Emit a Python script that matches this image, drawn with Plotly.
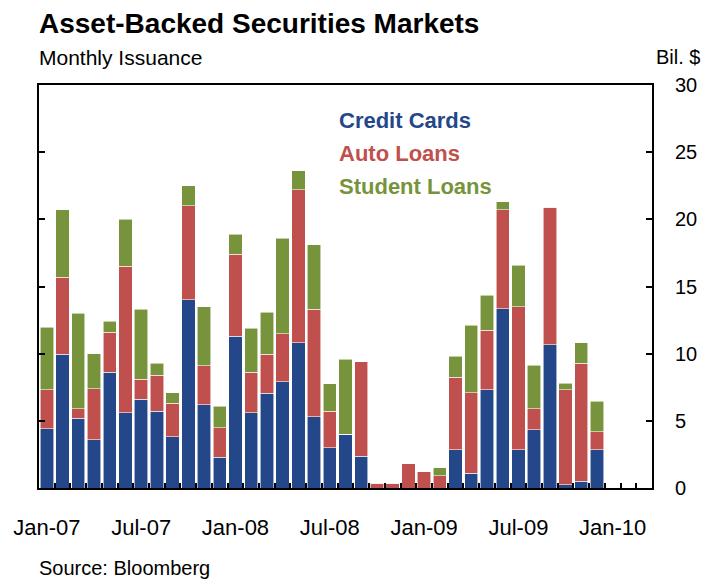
import pandas as pd
import plotly.graph_objects as go

# Monthly slots on the axis, Jan-07 through Mar-10
months = [d.strftime("%b-%y") for d in pd.date_range("2007-01-01", "2010-03-01", freq="MS")]
tick_labels = ["Jan-07", "Jul-07", "Jan-08", "Jul-08", "Jan-09", "Jul-09", "Jan-10"]

# Issuance, billions of dollars, Jan-07 .. Dec-09
credit_cards = [4.4, 9.95, 5.2, 3.6, 8.6, 5.6, 6.6, 5.7, 3.8, 14.0, 6.2, 2.3,
                11.3, 5.6, 7.05, 7.9, 10.8, 5.3, 3.0, 4.0, 2.35, 0.0, 0.0, 0.0,
                0.0, 0.0, 2.85, 1.1, 7.3, 13.35, 2.85, 4.35, 10.65, 0.25, 0.5, 2.85]
auto_loans = [2.9, 5.75, 0.7, 3.8, 3.0, 10.9, 1.5, 2.7, 2.5, 7.0, 2.9, 2.2,
              6.1, 3.0, 2.9, 3.6, 11.4, 8.0, 2.7, 0.0, 7.05, 0.35, 0.35, 1.8,
              1.2, 0.9, 5.4, 6.0, 4.45, 7.35, 10.65, 1.55, 10.25, 7.05, 8.8, 1.35]
student_loans = [4.65, 5.0, 7.1, 2.6, 0.8, 3.5, 5.2, 0.9, 0.8, 1.5, 4.4, 1.6,
                 1.5, 3.3, 3.15, 7.1, 1.4, 4.8, 2.05, 5.6, 0.0, 0.0, 0.0, 0.0,
                 0.0, 0.6, 1.55, 5.0, 2.6, 0.6, 3.1, 3.25, 0.0, 0.5, 1.5, 2.25]

series = [
    ("Credit Cards", credit_cards, "#24478A"),
    ("Auto Loans", auto_loans, "#C0504D"),
    ("Student Loans", student_loans, "#77933C"),
]

FONT = "Liberation Sans, Arial, sans-serif"
x_idx = list(range(len(credit_cards)))

fig = go.Figure()
for name, vals, color in series:
    fig.add_trace(go.Bar(
        x=x_idx, y=vals, name=name,
        marker=dict(color=color, line=dict(color="rgba(255,255,255,0.7)", width=0.8)),
        showlegend=False,
    ))

n_slots = len(months)
tick_pos = [months.index(t) for t in tick_labels]

fig.update_layout(
    width=704, height=580,
    margin=dict(l=39, r=52, t=85, b=92),
    paper_bgcolor="white", plot_bgcolor="white",
    barmode="stack", bargap=0.15,
    font=dict(family=FONT, color="black"),
    xaxis=dict(
        range=[-0.5, n_slots - 0.5], automargin=False,
        tickvals=tick_pos, ticktext=tick_labels,
        ticks="", showgrid=False, zeroline=False,
        showline=True, linecolor="black", linewidth=2, mirror=True,
        tickfont=dict(size=22), ticklabelstandoff=19,
        minor=dict(tickvals=[i + 0.5 for i in range(n_slots - 1)],
                   ticks="inside", ticklen=5, tickwidth=2, tickcolor="black",
                   showgrid=False),
    ),
    yaxis=dict(
        range=[0, 30], dtick=5, side="right", automargin=False,
        ticks="inside", ticklen=6, tickwidth=2, tickcolor="black",
        showgrid=False, zeroline=False,
        showline=True, linecolor="black", linewidth=2, mirror="ticks",
        tickfont=dict(size=20), ticklabelstandoff=17,
    ),
)

W, H = 613.0, 403.0


def px(x):
    return (x - 39) / W


def py(y):
    return (488 - y) / H


annots = [
    dict(text="<b>Asset-Backed Securities Markets</b>", x=px(37), y=py(23),
         xanchor="left", font=dict(size=28)),
    dict(text="Monthly Issuance", x=px(37), y=py(58), xanchor="left", font=dict(size=21)),
    dict(text="Bil. $", x=px(702), y=py(57), xanchor="right", font=dict(size=20)),
    dict(text="Source: Bloomberg", x=px(37), y=py(568), xanchor="left", font=dict(size=20)),
]
for (name, _, color), yy in zip(series, [120, 153, 186]):
    annots.append(dict(text=f"<b>{name}</b>", x=px(337), y=py(yy), xanchor="left",
                       font=dict(size=22, color=color)))

for a in annots:
    fig.add_annotation(xref="paper", yref="paper", yanchor="middle", showarrow=False, **a)

fig.write_html("out.html")
